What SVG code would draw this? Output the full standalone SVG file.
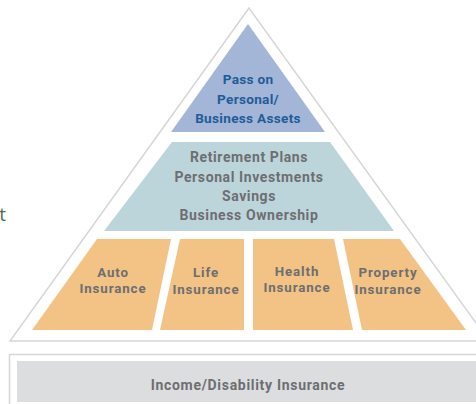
<svg xmlns="http://www.w3.org/2000/svg" width="476" height="404" viewBox="0 0 476 404">
<style>
.t{font-family:Roboto,"Open Sans",sans-serif;font-weight:700;text-anchor:middle;fill:#6d6e71}
.top{font-size:13.6px;letter-spacing:0.3px;fill:#1f5c97}
.mid{font-size:14px;letter-spacing:0.6px}
.ins{font-size:13.3px;letter-spacing:0.9px}
.inc{font-size:14px;letter-spacing:0.7px}
.orange{fill:#f2c384}
.outline{fill:none;stroke:#d6d6d6;stroke-width:1.5}
</style>
<rect width="476" height="404" fill="#ffffff"/>
<text x="6" y="221" style="font-family:'Open Sans',sans-serif;font-size:19px;fill:#56665d;text-anchor:end">t</text>
<g id="frame">
<polygon class="outline" points="249,8 10,341 489,341"/>
</g>
<g id="top">
<polygon points="248,24 171,132 325,132" fill="#a3b6d7"/>
<text class="t top"><tspan x="248" y="84">Pass on</tspan><tspan x="248" y="104">Personal/</tspan><tspan x="248" y="123">Business Assets</tspan></text>
</g>
<g id="middle">
<polygon points="172,142 330,142 394,231 104,231" fill="#bcd5da"/>
<text class="t mid"><tspan x="249" y="162">Retirement Plans</tspan><tspan x="249" y="181.5">Personal Investments</tspan><tspan x="249" y="200.5">Savings</tspan><tspan x="249" y="220">Business Ownership</tspan></text>
</g>
<g id="auto">
<polygon class="orange" points="97,239 171,239 152,330 32,330"/>
<text class="t ins"><tspan x="113" y="276.5">Auto</tspan><tspan x="113" y="292.5">Insurance</tspan></text>
</g>
<g id="life">
<polygon class="orange" points="180,239 244,239 244,330 160,330"/>
<text class="t ins"><tspan x="206" y="277">Life</tspan><tspan x="206" y="293.5">Insurance</tspan></text>
</g>
<g id="health">
<polygon class="orange" points="253,239 334,239 353,330 253,330"/>
<text class="t ins"><tspan x="297" y="276">Health</tspan><tspan x="297" y="292">Insurance</tspan></text>
</g>
<g id="property">
<polygon class="orange" points="343,239 400,239 466,330 362,330"/>
<text class="t ins"><tspan x="388" y="277">Property</tspan><tspan x="388" y="293.5">Insurance</tspan></text>
</g>
<g id="income">
<path d="M9.5,404 V354.5 H476" fill="none" stroke="#d6d6d6" stroke-width="1.5"/>
<rect x="17" y="361" width="460" height="41" fill="#dcdddf"/>
<text class="t inc" x="248" y="390">Income/Disability Insurance</text>
</g>
</svg>
